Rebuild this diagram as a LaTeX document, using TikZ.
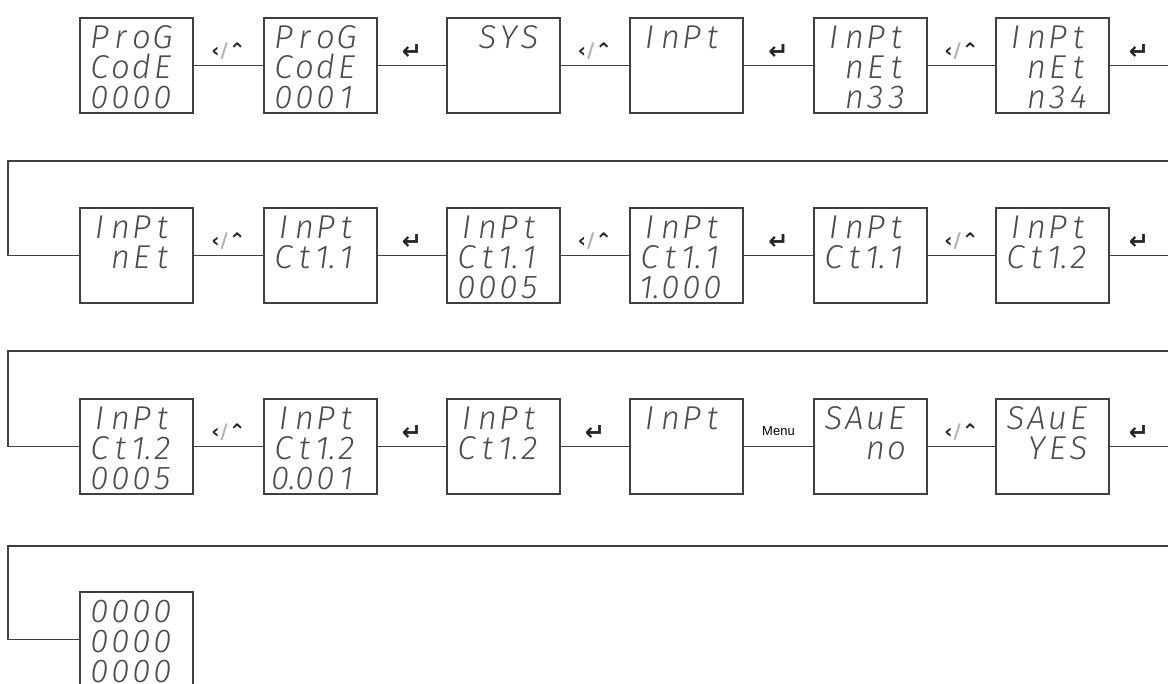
\documentclass[tikz,border=0pt]{standalone}
\usepackage{fontspec}
\newfontfamily\lcdfont{Fira Sans Light Italic}
\newfontfamily\keyfont{DejaVu Sans Bold}
\newfontfamily\menufont{Liberation Sans}
% one display line: four digit cells
\newcommand\dig[4]{\makebox[21pt][c]{#1}\makebox[21pt][c]{#2}\makebox[21pt][c]{#3}\makebox[21pt][c]{#4}}
% three display lines in a screen
\newcommand\scr[3]{\parbox[c][95pt][t]{113pt}{\vspace*{8pt}\lcdfont\fontsize{33}{30}\selectfont
  \hspace*{9pt}#1\par\hspace*{9pt}#2\par\hspace*{9pt}#3}}
\newcommand\shiftkey{‹\kern1pt\textcolor{black!30}{/}\kern1pt⌃}
\newcommand\enterkey{{\fontsize{24}{24}\selectfont↵}}

\begin{document}
\begin{tikzpicture}[x=1pt,y=-1pt,
    screen/.style={draw=black!75,line width=1.2pt,inner sep=0pt,
      minimum width=113pt,minimum height=95pt,text=black!70},
    wire/.style={draw=black!75,line width=1.2pt},
    key/.style={font=\keyfont\fontsize{20}{20}\selectfont,text=black!85,yshift=14pt},
    menukey/.style={font=\menufont\fontsize{13}{13}\selectfont,yshift=15pt}]
\useasboundingbox (0,0) rectangle (1168,684);
%
% ============ Reihe 1 ============
\node[screen] (b11) at (136.5,65.5) {\scr{\dig{P}{r}{o}{G}}{\dig{C}{o}{d}{E}}{\dig{0}{0}{0}{0}}};
\node[screen] (b12) at (320.5,65.5) {\scr{\dig{P}{r}{o}{G}}{\dig{C}{o}{d}{E}}{\dig{0}{0}{0}{1}}};
\node[screen] (b13) at (503.5,65.5) {\scr{\dig{}{S}{Y}{S}}{}{}};
\node[screen] (b14) at (686.5,65.5) {\scr{\dig{I}{n}{P}{t}}{}{}};
\node[screen] (b15) at (870.5,65.5) {\scr{\dig{I}{n}{P}{t}}{\dig{}{n}{E}{t}}{\dig{}{n}{3}{3}}};
\node[screen] (b16) at (1052.5,65.5) {\scr{\dig{I}{n}{P}{t}}{\dig{}{n}{E}{t}}{\dig{}{n}{3}{4}}};
\coordinate (e1) at (1168,65.5);
\draw[wire] (b11) -- node[key] (k11) {\shiftkey} (b12);
\draw[wire] (b12) -- node[key] (k12) {\enterkey} (b13);
\draw[wire] (b13) -- node[key] (k13) {\shiftkey} (b14);
\draw[wire] (b14) -- node[key] (k14) {\enterkey} (b15);
\draw[wire] (b15) -- node[key] (k15) {\shiftkey} (b16);
\draw[wire] (b16) -- node[key] (k16) {\enterkey} (e1);
%
% Umbruch 1
\coordinate (r1) at (1168,161);
\coordinate (l1) at (8,161);
%
% ============ Reihe 2 ============
\node[screen] (b21) at (136.5,255.5) {\scr{\dig{I}{n}{P}{t}}{\dig{}{n}{E}{t}}{}};
\node[screen] (b22) at (320.5,255.5) {\scr{\dig{I}{n}{P}{t}}{\dig{C}{t}{1.}{1}}{}};
\node[screen] (b23) at (503.5,255.5) {\scr{\dig{I}{n}{P}{t}}{\dig{C}{t}{1.}{1}}{\dig{0}{0}{0}{5}}};
\node[screen] (b24) at (686.5,255.5) {\scr{\dig{I}{n}{P}{t}}{\dig{C}{t}{1.}{1}}{\dig{1.}{0}{0}{0}}};
\node[screen] (b25) at (870.5,255.5) {\scr{\dig{I}{n}{P}{t}}{\dig{C}{t}{1.}{1}}{}};
\node[screen] (b26) at (1052.5,255.5) {\scr{\dig{I}{n}{P}{t}}{\dig{C}{t}{1.}{2}}{}};
\coordinate (e2) at (1168,255.5);
\draw[wire] (r1) -- (l1) |- (b21);
\draw[wire] (b21) -- node[key] (k21) {\shiftkey} (b22);
\draw[wire] (b22) -- node[key] (k22) {\enterkey} (b23);
\draw[wire] (b23) -- node[key] (k23) {\shiftkey} (b24);
\draw[wire] (b24) -- node[key] (k24) {\enterkey} (b25);
\draw[wire] (b25) -- node[key] (k25) {\shiftkey} (b26);
\draw[wire] (b26) -- node[key] (k26) {\enterkey} (e2);
%
% Umbruch 2
\coordinate (r2) at (1168,351);
\coordinate (l2) at (8,351);
%
% ============ Reihe 3 ============
\node[screen] (b31) at (136.5,446.5) {\scr{\dig{I}{n}{P}{t}}{\dig{C}{t}{1.}{2}}{\dig{0}{0}{0}{5}}};
\node[screen] (b32) at (320.5,446.5) {\scr{\dig{I}{n}{P}{t}}{\dig{C}{t}{1.}{2}}{\dig{0.}{0}{0}{1}}};
\node[screen] (b33) at (503.5,446.5) {\scr{\dig{I}{n}{P}{t}}{\dig{C}{t}{1.}{2}}{}};
\node[screen] (b34) at (686.5,446.5) {\scr{\dig{I}{n}{P}{t}}{}{}};
\node[screen] (b35) at (870.5,446.5) {\scr{\dig{S}{A}{u}{E}}{\dig{}{}{n}{o}}{}};
\node[screen] (b36) at (1052.5,446.5) {\scr{\dig{S}{A}{u}{E}}{\dig{}{Y}{E}{S}}{}};
\coordinate (e3) at (1168,446.5);
\draw[wire] (r2) -- (l2) |- (b31);
\draw[wire] (b31) -- node[key] (k31) {\shiftkey} (b32);
\draw[wire] (b32) -- node[key] (k32) {\enterkey} (b33);
\draw[wire] (b33) -- node[key] (k33) {\enterkey} (b34);
\draw[wire] (b34) -- node[menukey] (k34) {Menu} (b35);
\draw[wire] (b35) -- node[key] (k35) {\shiftkey} (b36);
\draw[wire] (b36) -- node[key] (k36) {\enterkey} (e3);
%
% Umbruch 3
\coordinate (r3) at (1168,546);
\coordinate (l3) at (8,546);
%
% ============ Reihe 4 ============
\node[screen] (b41) at (136.5,639.5) {\scr{\dig{0}{0}{0}{0}}{\dig{0}{0}{0}{0}}{\dig{0}{0}{0}{0}}};
\draw[wire] (r3) -- (l3) |- (b41);
%
\end{tikzpicture}
\end{document}
